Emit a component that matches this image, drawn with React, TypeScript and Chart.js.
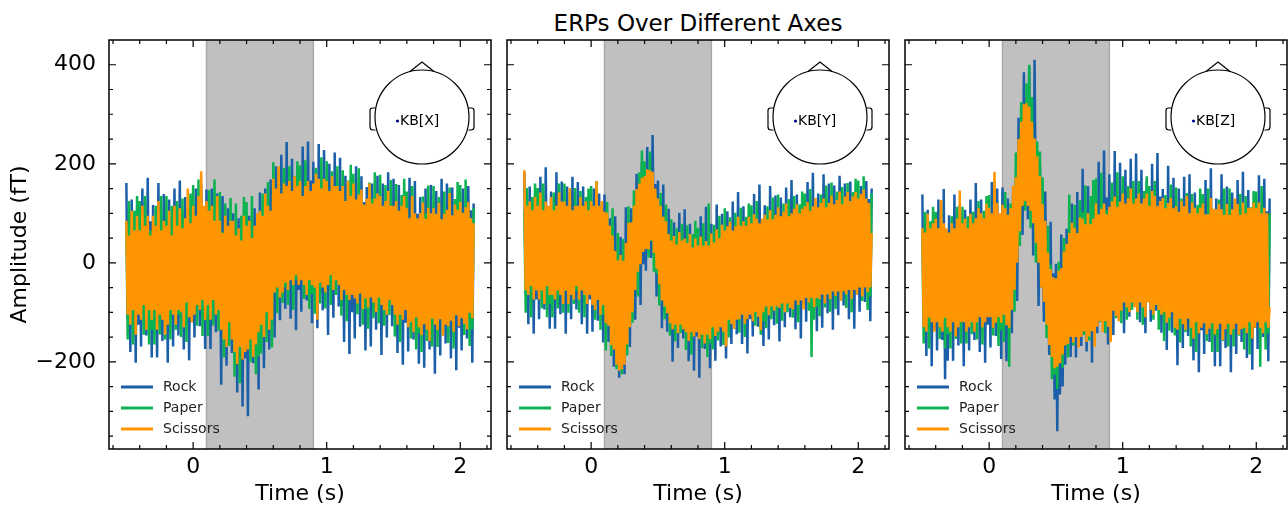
import { useEffect, useRef } from "react";
import { Chart, registerables } from "chart.js";

Chart.register(...registerables);

const FONT = "'DejaVu Sans', 'Liberation Sans', sans-serif";
const TITLE = "ERPs Over Different Axes";
const X_TITLE = "Time (s)";
const Y_TITLE = "Amplitude (fT)";
const SERIES_LABELS = ["Rock", "Paper", "Scissors"];
const SERIES_COLORS = ["#1a5fa8", "#0db350", "#ff9500"];
const SENSORS = ["KB[X]", "KB[Y]", "KB[Z]"];

const X_TICKS = [0, 1, 2];
const X_TICK_LABELS = ["0", "1", "2"];
const X_MINOR_TICKS = [-0.6, -0.4, -0.2, 0.2, 0.4, 0.6, 0.8, 1.2, 1.4, 1.6, 1.8, 2.2];
const Y_TICKS = [-200, 0, 200, 400];
const Y_TICK_LABELS = ["\u2212200", "0", "200", "400"];
const Y_MINOR_TICKS = [-350, -300, -250, -150, -100, -50, 50, 100, 150, 250, 300, 350];
const X_MIN = -0.63;
const X_MAX = 2.23;
const Y_MIN = -376;
const Y_MAX = 450;
const SHADE_START = 0.1;
const SHADE_END = 0.9;

// sample times (s)
const TIMES = [
  -0.5, -0.49, -0.48, -0.47, -0.46, -0.45, -0.44, -0.43, -0.42, -0.41,
  -0.4, -0.39, -0.38, -0.37, -0.36, -0.35, -0.34, -0.33, -0.32, -0.31,
  -0.3, -0.29, -0.28, -0.27, -0.26, -0.25, -0.24, -0.23, -0.22, -0.21,
  -0.2, -0.19, -0.18, -0.17, -0.16, -0.15, -0.14, -0.13, -0.12, -0.11,
  -0.1, -0.09, -0.08, -0.07, -0.06, -0.05, -0.04, -0.03, -0.02, -0.01,
  0, 0.01, 0.02, 0.03, 0.04, 0.05, 0.06, 0.07, 0.08, 0.09,
  0.1, 0.11, 0.12, 0.13, 0.14, 0.15, 0.16, 0.17, 0.18, 0.19,
  0.2, 0.21, 0.22, 0.23, 0.24, 0.25, 0.26, 0.27, 0.28, 0.29,
  0.3, 0.31, 0.32, 0.33, 0.34, 0.35, 0.36, 0.37, 0.38, 0.39,
  0.4, 0.41, 0.42, 0.43, 0.44, 0.45, 0.46, 0.47, 0.48, 0.49,
  0.5, 0.51, 0.52, 0.53, 0.54, 0.55, 0.56, 0.57, 0.58, 0.59,
  0.6, 0.61, 0.62, 0.63, 0.64, 0.65, 0.66, 0.67, 0.68, 0.69,
  0.7, 0.71, 0.72, 0.73, 0.74, 0.75, 0.76, 0.77, 0.78, 0.79,
  0.8, 0.81, 0.82, 0.83, 0.84, 0.85, 0.86, 0.87, 0.88, 0.89,
  0.9, 0.91, 0.92, 0.93, 0.94, 0.95, 0.96, 0.97, 0.98, 0.99,
  1.0, 1.01, 1.02, 1.03, 1.04, 1.05, 1.06, 1.07, 1.08, 1.09,
  1.1, 1.11, 1.12, 1.13, 1.14, 1.15, 1.16, 1.17, 1.18, 1.19,
  1.2, 1.21, 1.22, 1.23, 1.24, 1.25, 1.26, 1.27, 1.28, 1.29,
  1.3, 1.31, 1.32, 1.33, 1.34, 1.35, 1.36, 1.37, 1.38, 1.39,
  1.4, 1.41, 1.42, 1.43, 1.44, 1.45, 1.46, 1.47, 1.48, 1.49,
  1.5, 1.51, 1.52, 1.53, 1.54, 1.55, 1.56, 1.57, 1.58, 1.59,
  1.6, 1.61, 1.62, 1.63, 1.64, 1.65, 1.66, 1.67, 1.68, 1.69,
  1.7, 1.71, 1.72, 1.73, 1.74, 1.75, 1.76, 1.77, 1.78, 1.79,
  1.8, 1.81, 1.82, 1.83, 1.84, 1.85, 1.86, 1.87, 1.88, 1.89,
  1.9, 1.91, 1.92, 1.93, 1.94, 1.95, 1.96, 1.97, 1.98, 1.99,
  2.0, 2.01, 2.02, 2.03, 2.04, 2.05, 2.06, 2.07, 2.08, 2.09,
  2.1,
];

// ---- KB[X] ----
const X_ROCK = [
  161, -114, 73, -180, 128, -92, 62, -202, 106, -125,
  73, -169, 150, -103, 62, -147, 172, -114, 84, -191,
  117, -103, 62, -191, 161, -125, 73, -158, 139, -92,
  62, -202, 128, -114, 84, -169, 150, -92, 73, -147,
  166, -109, 78, -175, 133, -87, 67, -197, 111, -120,
  102, -151, 150, -82, 91, -128, 160, -94, 114, -174,
  148, -82, 91, -174, 150, -105, 102, -140, 140, -71,
  59, -246, 135, -144, 84, -208, 110, -119, 72, -182,
  100, -179, 55, -262, 90, -152, 42, -290, 97, -193,
  61, -310, 95, -151, 47, -203, 110, -164, 74, -256,
  142, -112, 79, -213, 150, -137, 92, -175, 168, -99,
  126, -151, 195, -59, 149, -116, 218, -36, 137, -93,
  244, -44, 152, -113, 210, -21, 141, -136, 187, -55,
  154, -99, 235, -30, 143, -76, 245, -42, 166, -122,
  204, -36, 144, -132, 240, -60, 156, -96, 228, -24,
  131, -146, 200, -54, 154, -111, 223, -31, 142, -88,
  212, -88, 116, -160, 176, -64, 104, -184, 152, -100,
  111, -153, 195, -81, 99, -129, 175, -93, 123, -177,
  153, -77, 96, -169, 160, -100, 107, -135, 176, -66,
  91, -186, 160, -94, 114, -151, 183, -71, 102, -128,
  170, -109, 97, -182, 157, -85, 85, -206, 133, -121,
  87, -179, 172, -107, 75, -155, 165, -119, 99, -204,
  133, -113, 71, -212, 150, -138, 83, -175, 157, -101,
  71, -224, 145, -126, 96, -187, 170, -101, 83, -163,
  160, -119, 90, -193, 152, -94, 78, -217, 127, -131,
  93, -177, 150, -103, 81, -153, 155, -116, 106, -202,
  120,
];
const X_PAPER = [
  75, -155, 125, -95, 65, -165, 105, -105, 135, -95,
  125, -95, 55, -145, 135, -105, 75, -165, 65, -135,
  65, -165, 115, -85, 85, -145, 135, -95, 75, -155,
  135, -105, 65, -155, 115, -95, 55, -135, 125, -105,
  80, -150, 130, -90, 70, -160, 110, -100, 140, -90,
  157, -74, 84, -127, 168, -85, 105, -148, 94, -116,
  94, -148, 147, -64, 115, -127, 168, -74, 105, -137,
  143, -134, 62, -191, 120, -122, 51, -168, 131, -134,
  58, -230, 120, -155, 45, -243, 95, -168, 133, -155,
  123, -141, 39, -201, 135, -153, 63, -225, 51, -189,
  82, -183, 140, -91, 105, -160, 163, -102, 94, -171,
  203, -50, 129, -102, 182, -39, 119, -81, 192, -50,
  145, -85, 195, -25, 135, -95, 175, -35, 205, -25,
  197, -23, 127, -73, 207, -33, 147, -93, 137, -63,
  139, -103, 192, -19, 160, -82, 213, -29, 150, -92,
  205, -35, 135, -85, 185, -25, 125, -65, 195, -35,
  135, -107, 187, -44, 124, -118, 166, -55, 198, -44,
  180, -51, 107, -104, 191, -62, 128, -125, 117, -93,
  109, -133, 162, -49, 130, -112, 183, -59, 120, -122,
  178, -75, 104, -127, 157, -64, 94, -106, 167, -75,
  104, -149, 159, -83, 93, -160, 137, -94, 170, -83,
  144, -98, 67, -153, 155, -109, 89, -175, 78, -142,
  78, -180, 134, -90, 100, -158, 156, -102, 89, -169,
  155, -114, 77, -170, 133, -103, 65, -147, 144, -114,
  96, -162, 152, -95, 85, -173, 129, -106, 163, -95,
  157, -90, 78, -146, 168, -101, 101, -168, 90, -134,
  110,
];
const X_SCISSORS = [
  85, -105, 55, -125, 105, -95, 65, -145, 95, -105,
  65, -115, 115, -85, 75, -135, 95, -95, 55, -115,
  95, -95, 75, -135, 125, -105, 65, -115, 85, -145,
  75, -125, 105, -95, 55, -105, 115, -125, 75, -95,
  110, -100, 70, -130, 90, -80, 150, -110, 80, -120,
  115, -105, 95, -85, 135, -95, 185, -75, 115, -115,
  125, -85, 105, -115, 115, -75, 85, -105, 135, -95,
  85, -135, 60, -155, 95, -170, 75, -120, 85, -155,
  85, -180, 55, -205, 70, -170, 45, -195, 95, -180,
  75, -175, 85, -155, 50, -190, 75, -165, 100, -140,
  105, -125, 95, -150, 140, -100, 115, -135, 105, -115,
  170, -60, 150, -50, 195, -70, 140, -60, 160, -40,
  155, -55, 165, -35, 145, -45, 175, -25, 155, -45,
  165, -35, 135, -45, 155, -65, 165, -35, 145, -45,
  160, -50, 180, -115, 170, -40, 150, -50, 170, -60,
  165, -45, 145, -25, 175, -55, 155, -35, 155, -45,
  145, -75, 155, -55, 125, -65, 165, -75, 135, -65,
  160, -72, 128, -82, 138, -62, 148, -93, 117, -72,
  130, -90, 160, -70, 120, -80, 130, -100, 140, -70,
  135, -85, 115, -95, 125, -105, 145, -75, 115, -85,
  115, -105, 125, -125, 105, -105, 115, -115, 135, -95,
  110, -130, 90, -120, 135, -140, 100, -110, 90, -130,
  100, -146, 122, -124, 89, -135, 111, -158, 100, -113,
  110, -125, 99, -136, 121, -114, 88, -147, 99, -125,
  107, -128, 141, -117, 96, -139, 118, -106, 107, -128,
  123, -112, 101, -123, 112, -134, 123, -101, 90, -112,
  80,
];

// ---- KB[Y] ----
const Y_ROCK = [
  183, -64, 104, -124, 154, -44, 94, -143, 134, -74,
  104, -114, 174, -54, 94, -94, 193, -64, 114, -133,
  144, -54, 94, -133, 183, -74, 104, -104, 164, -44,
  94, -143, 154, -64, 114, -114, 174, -44, 104, -94,
  163, -64, 104, -124, 154, -44, 94, -143, 134, -74,
  103, -139, 150, -73, 92, -117, 140, -84, 114, -161,
  138, -109, 65, -160, 90, -166, 42, -210, 94, -170,
  -20, -232, 52, -209, 14, -225, 112, -140, 57, -170,
  110, -85, 100, -115, 180, -3, 145, -85, 202, -3,
  168, -16, 234, 41, 172, 10, 258, 18, 159, -68,
  166, -33, 96, -132, 158, -97, 65, -139, 109, -94,
  26, -200, 82, -125, 45, -172, 101, -106, 35, -153,
  108, -139, 29, -199, 79, -119, 19, -218, 59, -149,
  24, -232, 94, -134, 14, -174, 113, -144, 34, -213,
  79, -119, 29, -198, 118, -139, 39, -169, 99, -109,
  44, -193, 104, -114, 64, -164, 124, -94, 54, -144,
  143, -104, 64, -164, 114, -84, 54, -183, 94, -114,
  69, -149, 139, -89, 59, -129, 158, -99, 79, -168,
  116, -78, 68, -155, 155, -97, 78, -126, 136, -68,
  74, -159, 132, -81, 93, -130, 152, -62, 84, -110,
  167, -75, 90, -134, 138, -56, 80, -153, 119, -85,
  95, -119, 163, -61, 85, -99, 182, -70, 104, -138,
  140, -54, 92, -131, 179, -73, 102, -102, 160, -44,
  98, -135, 156, -57, 117, -106, 176, -38, 108, -86,
  160, -54, 114, -114, 164, -34, 104, -133, 144, -64,
  119, -99, 155, -39, 109, -79, 165, -49, 129, -118,
  150,
];
const Y_PAPER = [
  106, -101, 151, -47, 97, -110, 133, -56, 160, -47,
  151, -47, 88, -92, 160, -56, 106, -110, 97, -83,
  97, -110, 142, -38, 115, -92, 160, -47, 106, -101,
  160, -56, 97, -101, 142, -47, 88, -83, 151, -56,
  106, -101, 145, -47, 97, -110, 133, -56, 150, -47,
  155, -65, 85, -115, 165, -75, 105, -135, 95, -105,
  81, -177, 123, -105, 75, -188, 110, -153, 24, -215,
  60, -207, -17, -225, 48, -173, 7, -187, 114, -124,
  68, -121, 146, -37, 122, -68, 183, 4, 227, 25,
  205, 43, 159, 11, 225, 44, 173, -18, 142, -22,
  121, -86, 141, -42, 93, -114, 118, -85, 54, -147,
  88, -117, 28, -159, 71, -108, 20, -142, 79, -117,
  31, -176, 76, -122, 22, -185, 58, -131, 85, -122,
  71, -127, 8, -172, 80, -136, 26, -190, 120, -163,
  32, -175, 77, -103, 50, -157, 95, -112, 41, -166,
  110, -106, 47, -151, 92, -97, 38, -133, 101, -106,
  66, -141, 111, -87, 57, -150, 93, -96, 120, -87,
  116, -82, 53, -127, 125, -91, 71, -145, 62, -118,
  70, -132, 114, -62, 88, -114, 132, -70, 79, -123,
  138, -73, 76, -117, 120, -64, 68, -100, 129, -73,
  91, -111, 135, -58, 82, -120, 118, -67, 144, -58,
  140, -53, 79, -97, 149, -190, 96, -115, 87, -89,
  94, -108, 138, -38, 112, -90, 156, -46, 103, -99,
  162, -49, 100, -93, 144, -40, 92, -76, 153, -49,
  116, -91, 161, -37, 107, -100, 143, -46, 170, -37,
  166, -32, 103, -77, 175, -41, 121, -95, 112, -68,
  140,
];
const Y_SCISSORS = [
  187, -56, 115, -65, 124, -47, 106, -74, 133, -56,
  115, -74, 142, -56, 106, -83, 124, -47, 115, -65,
  133, -65, 106, -74, 115, -56, 142, -65, 124, -83,
  124, -56, 115, -83, 151, -65, 106, -74, 115, -47,
  115, -74, 133, -56, 115, -65, 124, -83, 106, -65,
  125, -85, 115, -95, 165, -75, 115, -105, 125, -85,
  103, -122, 101, -127, 75, -166, 55, -175, 24, -206,
  5, -218, 16, -215, 4, -206, 40, -165, 81, -130,
  82, -100, 115, -55, 149, -18, 160, -3, 172, 22,
  175, 28, 189, 27, 187, 45, 184, 20, 150, -12,
  130, -43, 115, -76, 93, -88, 84, -102, 58, -122,
  45, -134, 54, -125, 37, -142, 62, -125, 45, -134,
  49, -140, 40, -158, 58, -140, 31, -149, 49, -140,
  35, -154, 53, -145, 35, -163, 44, -145, 35, -154,
  59, -130, 41, -148, 68, -139, 50, -130, 77, -139,
  65, -169, 74, -115, 83, -124, 65, -133, 74, -115,
  93, -114, 75, -105, 84, -123, 75, -114, 93, -105,
  80, -118, 98, -100, 89, -109, 80, -136, 89, -100,
  97, -88, 88, -106, 106, -88, 88, -97, 97, -88,
  112, -91, 94, -82, 103, -100, 120, -82, 94, -91,
  100, -94, 109, -76, 118, -85, 100, -76, 109, -94,
  114, -71, 123, -80, 105, -71, 114, -89, 131, -71,
  112, -73, 121, -64, 130, -82, 112, -64, 121, -73,
  136, -58, 118, -67, 127, -58, 144, -76, 118, -58,
  134, -64, 143, -55, 125, -73, 134, -55, 143, -64,
  130, -50, 139, -68, 148, -50, 130, -59, 121, -50,
  60,
];

// ---- KB[Z] ----
const Z_ROCK = [
  138, -125, 54, -188, 107, -104, 44, -209, 86, -135,
  54, -177, 128, -114, 44, -156, 149, -235, 65, -198,
  96, -114, 44, -198, 138, -135, 54, -167, 117, -104,
  44, -209, 107, -125, 65, -177, 128, -104, 54, -156,
  161, -114, 73, -180, 128, -92, 62, -202, 106, -125,
  82, -171, 163, -102, 71, -148, 150, -114, 94, -194,
  152, -92, 85, -199, 130, -131, 97, -142, 150, -30,
  150, -77, 293, 75, 294, 56, 385, 148, 310, 88,
  396, 111, 283, 15, 410, 73, 202, -87, 196, -50,
  126, -119, 144, -114, 9, -186, 83, -189, -21, -276,
  -2, -340, -46, -266, 57, -250, -6, -206, 69, -134,
  51, -190, 120, -134, 74, -191, 143, -111, 62, -168,
  190, -107, 95, -179, 155, -83, 83, -202, 131, -119,
  120, -142, 204, -70, 108, -118, 227, -82, 132, -165,
  179, -53, 121, -146, 226, -76, 133, -111, 202, -41,
  122, -142, 188, -54, 144, -109, 210, -32, 133, -87,
  221, -54, 133, -120, 188, -32, 122, -142, 166, -65,
  123, -119, 200, -53, 112, -97, 222, -64, 134, -141,
  149, -83, 91, -176, 196, -106, 103, -141, 172, -71,
  78, -207, 150, -112, 102, -172, 174, -88, 90, -148,
  179, -124, 82, -197, 142, -100, 70, -221, 118, -136,
  82, -184, 167, -112, 70, -160, 191, -124, 94, -209,
  130, -112, 70, -209, 179, -136, 82, -172, 154, -100,
  70, -221, 142, -124, 94, -184, 167, -100, 82, -160,
  184, -119, 87, -192, 147, -95, 75, -216, 123, -131,
  92, -174, 177, -102, 80, -150, 170, -114, 104, -199,
  130,
];
const Z_PAPER = [
  56, -163, 103, -106, 46, -173, 84, -116, 113, -106,
  103, -106, 37, -154, 113, -116, 56, -173, 46, -144,
  46, -173, 94, -97, 65, -154, 113, -106, 56, -163,
  113, -116, 46, -163, 94, -106, 37, -144, 103, -116,
  75, -155, 125, -95, 65, -165, 105, -105, 135, -95,
  137, -94, 64, -147, 148, -105, 85, -168, 74, -136,
  95, -160, 143, -82, 97, -210, 120, -73, 134, -99,
  223, 20, 230, 34, 325, 130, 290, 105, 362, 130,
  400, 70, 335, 100, 251, 0, 245, 10, 225, -20,
  173, -52, 58, -152, 75, -148, -4, -235, -38, -226,
  -49, -255, 2, -171, -11, -212, 50, -149, 11, -191,
  138, -115, 64, -167, 117, -104, 54, -146, 127, -115,
  102, -146, 156, -81, 91, -157, 135, -92, 167, -81,
  171, -66, 96, -120, 182, -77, 117, -142, 106, -110,
  109, -133, 162, -49, 130, -112, 183, -59, 120, -122,
  175, -65, 105, -115, 155, -55, 95, -95, 165, -65,
  115, -115, 165, -55, 105, -125, 145, -65, 175, -55,
  155, -65, 85, -115, 165, -75, 105, -135, 95, -105,
  84, -158, 137, -74, 105, -137, 158, -84, 95, -147,
  152, -107, 76, -161, 130, -96, 66, -140, 141, -107,
  84, -169, 139, -103, 73, -180, 117, -114, 150, -103,
  139, -103, 62, -158, 150, -114, 84, -180, 73, -147,
  73, -180, 128, -92, 95, -158, 150, -103, 84, -169,
  150, -114, 73, -169, 128, -103, 62, -147, 139, -114,
  90, -175, 135, -100, 80, -185, 112, -110, 145, -98,
  144, -98, 67, -210, 155, -109, 89, -175, 78, -142,
  100,
];
const Z_SCISSORS = [
  70, -130, 61, -139, 99, -111, 70, -120, 80, -139,
  89, -120, 70, -130, 127, -139, 80, -111, 70, -130,
  61, -139, 80, -120, 70, -149, 89, -130, 146, -120,
  80, -120, 89, -139, 70, -130, 99, -120, 80, -139,
  90, -120, 110, -110, 100, -130, 90, -120, 120, -110,
  111, -110, 100, -131, 184, -121, 121, -110, 100, -121,
  117, -105, 110, -126, 97, -131, 110, -95, 156, -55,
  173, 0, 250, 64, 285, 115, 320, 125, 322, 115,
  315, 105, 285, 80, 251, 40, 215, 0, 175, -50,
  119, -79, 85, -125, 21, -166, -13, -190, -29, -213,
  -31, -210, -16, -203, -11, -185, 23, -167, 38, -164,
  60, -150, 81, -161, 71, -150, 60, -171, 92, -150,
  89, -138, 78, -160, 100, -149, 78, -138, 89, -170,
  120, -129, 98, -118, 109, -140, 120, -118, 98, -129,
  113, -160, 124, -97, 134, -108, 113, -118, 124, -97,
  140, -80, 120, -90, 130, -100, 150, -80, 120, -90,
  130, -100, 140, -80, 120, -90, 130, -110, 140, -80,
  115, -95, 145, -105, 135, -85, 115, -95, 125, -105,
  131, -100, 110, -121, 121, -111, 131, -100, 110, -131,
  114, -135, 103, -113, 125, -124, 114, -135, 135, -113,
  100, -131, 122, -153, 111, -120, 100, -142, 111, -131,
  120, -122, 98, -144, 98, -133, 131, -122, 109, -144,
  108, -134, 119, -123, 108, -156, 97, -134, 119, -123,
  97, -145, 108, -134, 130, -123, 119, -145, 97, -134,
  122, -131, 100, -142, 111, -120, 111, -153, 122, -131,
  111, -120, 122, -131, 100, -142, 111, -120, 100, -131,
  -90,
];

const PANEL_SERIES = [
  [X_ROCK, X_PAPER, X_SCISSORS],
  [Y_ROCK, Y_PAPER, Y_SCISSORS],
  [Z_ROCK, Z_PAPER, Z_SCISSORS],
];

const PANELS = [
  { left: 0, width: 500, yWidth: 109, padRight: 9, showY: true },
  { left: 498, width: 398, yWidth: 9, padRight: 7, showY: false },
  { left: 896, width: 392, yWidth: 9, padRight: 1, showY: false },
];

function makeDecor(sensor: string) {
  return {
    id: "panelDecor",
    beforeDatasetsDraw(chart: any) {
      const { ctx, chartArea: a, scales } = chart;
      const x0 = scales.x.getPixelForValue(SHADE_START);
      const x1 = scales.x.getPixelForValue(SHADE_END);
      ctx.save();
      ctx.fillStyle = "#c0c0c0";
      ctx.fillRect(x0, a.top, x1 - x0, a.bottom - a.top);
      ctx.strokeStyle = "#a9a9a9";
      ctx.lineWidth = 1.5;
      ctx.beginPath();
      ctx.moveTo(x0, a.top);
      ctx.lineTo(x0, a.bottom);
      ctx.moveTo(x1, a.top);
      ctx.lineTo(x1, a.bottom);
      ctx.stroke();
      ctx.restore();
    },
    afterDatasetsDraw(chart: any) {
      const { ctx, chartArea: a, scales } = chart;
      ctx.save();
      ctx.strokeStyle = "#000";
      ctx.lineWidth = 1.2;
      ctx.beginPath();
      const xt = (vals: number[], len: number) => {
        vals.forEach((v) => {
          const p = scales.x.getPixelForValue(v);
          ctx.moveTo(p, a.bottom);
          ctx.lineTo(p, a.bottom - len);
          ctx.moveTo(p, a.top);
          ctx.lineTo(p, a.top + len);
        });
      };
      const yt = (vals: number[], len: number) => {
        vals.forEach((v) => {
          const p = scales.y.getPixelForValue(v);
          ctx.moveTo(a.left, p);
          ctx.lineTo(a.left + len, p);
          ctx.moveTo(a.right, p);
          ctx.lineTo(a.right - len, p);
        });
      };
      xt(X_TICKS, 7);
      xt(X_MINOR_TICKS, 4);
      yt(Y_TICKS, 7);
      yt(Y_MINOR_TICKS, 4);
      ctx.stroke();
      ctx.lineWidth = 1.5;
      ctx.strokeRect(a.left, a.top, a.right - a.left, a.bottom - a.top);

      // legend
      ctx.font = `14px ${FONT}`;
      ctx.textBaseline = "middle";
      ctx.textAlign = "left";
      chart.data.datasets.forEach((ds: any, i: number) => {
        const y = a.top + 347 + i * 21;
        ctx.strokeStyle = ds.borderColor;
        ctx.lineWidth = 3;
        ctx.beginPath();
        ctx.moveTo(a.left + 12, y);
        ctx.lineTo(a.left + 44, y);
        ctx.stroke();
        ctx.fillStyle = "#222";
        ctx.fillText(ds.label, a.left + 54, y + 0.5);
      });

      // sensor head
      const cx = a.left + 313;
      const cy = a.top + 77;
      const r = 47;
      ctx.strokeStyle = "#000";
      ctx.lineWidth = 1.2;
      ctx.beginPath();
      ctx.arc(cx, cy, r, 0, Math.PI * 2);
      ctx.stroke();
      ctx.beginPath();
      ctx.moveTo(cx - 12, cy - r + 1.5);
      ctx.lineTo(cx, cy - r - 8);
      ctx.lineTo(cx + 12, cy - r + 1.5);
      ctx.stroke();
      [-1, 1].forEach((s) => {
        const ex = cx + s * r;
        ctx.beginPath();
        ctx.moveTo(ex - s * 0.5, cy - 9);
        ctx.lineTo(ex + s * 3, cy - 9);
        ctx.arcTo(ex + s * 5, cy - 9, ex + s * 5, cy - 6, 2.5);
        ctx.lineTo(ex + s * 5, cy + 10);
        ctx.arcTo(ex + s * 5, cy + 13, ex + s * 2, cy + 13, 3);
        ctx.lineTo(ex - s * 0.5, cy + 13);
        ctx.stroke();
      });
      ctx.fillStyle = "#00008b";
      ctx.beginPath();
      ctx.arc(cx - 24.5, cy + 4, 1.6, 0, Math.PI * 2);
      ctx.fill();
      ctx.fillStyle = "#000";
      ctx.font = `14px ${FONT}`;
      ctx.textBaseline = "middle";
      ctx.fillText(sensor, cx - 22, cy + 4.5);
      ctx.restore();
    },
  };
}

function Panel({ index }: { index: number }) {
  const ref = useRef<HTMLCanvasElement | null>(null);
  const cfg = PANELS[index];
  useEffect(() => {
    if (!ref.current) return;
    const series = PANEL_SERIES[index];
    const chart = new Chart(ref.current, {
      type: "line",
      data: {
        datasets: series.map((vals, k) => ({
          label: SERIES_LABELS[k],
          data: TIMES.map((t, i) => ({ x: t, y: vals[i] })),
          borderColor: SERIES_COLORS[k],
          backgroundColor: SERIES_COLORS[k],
          borderWidth: 2.5,
          pointRadius: 0,
          tension: 0,
          fill: false,
          order: 2 - k,
        })),
      },
      options: {
        responsive: false,
        animation: false,
        devicePixelRatio: 1,
        events: [],
        layout: { padding: { left: 0, right: cfg.padRight, top: 40, bottom: 0 } },
        plugins: {
          legend: { display: false },
          title: { display: false },
          tooltip: { enabled: false },
        },
        scales: {
          x: {
            type: "linear",
            min: X_MIN,
            max: X_MAX,
            grid: { display: false },
            border: { display: false },
            afterBuildTicks: (s: any) => {
              s.ticks = X_TICKS.map((v) => ({ value: v }));
            },
            afterFit: (s: any) => {
              s.height = 58;
            },
            ticks: {
              autoSkip: false,
              maxRotation: 0,
              minRotation: 0,
              padding: -3,
              color: "#000",
              font: { family: FONT, size: 22 },
              callback: (_v: any, i: number) => X_TICK_LABELS[i],
            },
            title: {
              display: true,
              text: X_TITLE,
              color: "#000",
              font: { family: FONT, size: 22 },
              padding: { top: 0, bottom: 0 },
            },
          },
          y: {
            type: "linear",
            min: Y_MIN,
            max: Y_MAX,
            grid: { display: false },
            border: { display: false },
            afterBuildTicks: (s: any) => {
              s.ticks = Y_TICKS.map((v) => ({ value: v }));
            },
            afterFit: (s: any) => {
              s.width = cfg.yWidth;
            },
            ticks: {
              display: cfg.showY,
              autoSkip: false,
              padding: 5,
              color: "#000",
              font: { family: FONT, size: 22 },
              callback: (_v: any, i: number) => Y_TICK_LABELS[i],
            },
            title: {
              display: cfg.showY,
              text: Y_TITLE,
              color: "#000",
              font: { family: FONT, size: 22 },
              padding: { top: 7, bottom: 0 },
            },
          },
        },
      } as any,
      plugins: [makeDecor(SENSORS[index])],
    });
    return () => chart.destroy();
  }, [index]);
  return (
    <div style={{ position: "absolute", left: cfg.left, top: 0, width: cfg.width, height: 507 }}>
      <canvas ref={ref} width={cfg.width} height={507} style={{ display: "block" }} />
    </div>
  );
}

export default function App() {
  return (
    <div
      style={{
        position: "absolute",
        left: 0,
        top: 0,
        width: 1288,
        height: 507,
        background: "#fff",
        overflow: "hidden",
      }}
    >
      <div
        style={{
          position: "absolute",
          left: 507,
          top: 10,
          width: 382,
          textAlign: "center",
          fontFamily: FONT,
          fontSize: 23,
          lineHeight: "27px",
          color: "#000",
          whiteSpace: "nowrap",
        }}
      >
        {TITLE}
      </div>
      {PANELS.map((_, i) => (
        <Panel key={i} index={i} />
      ))}
    </div>
  );
}
